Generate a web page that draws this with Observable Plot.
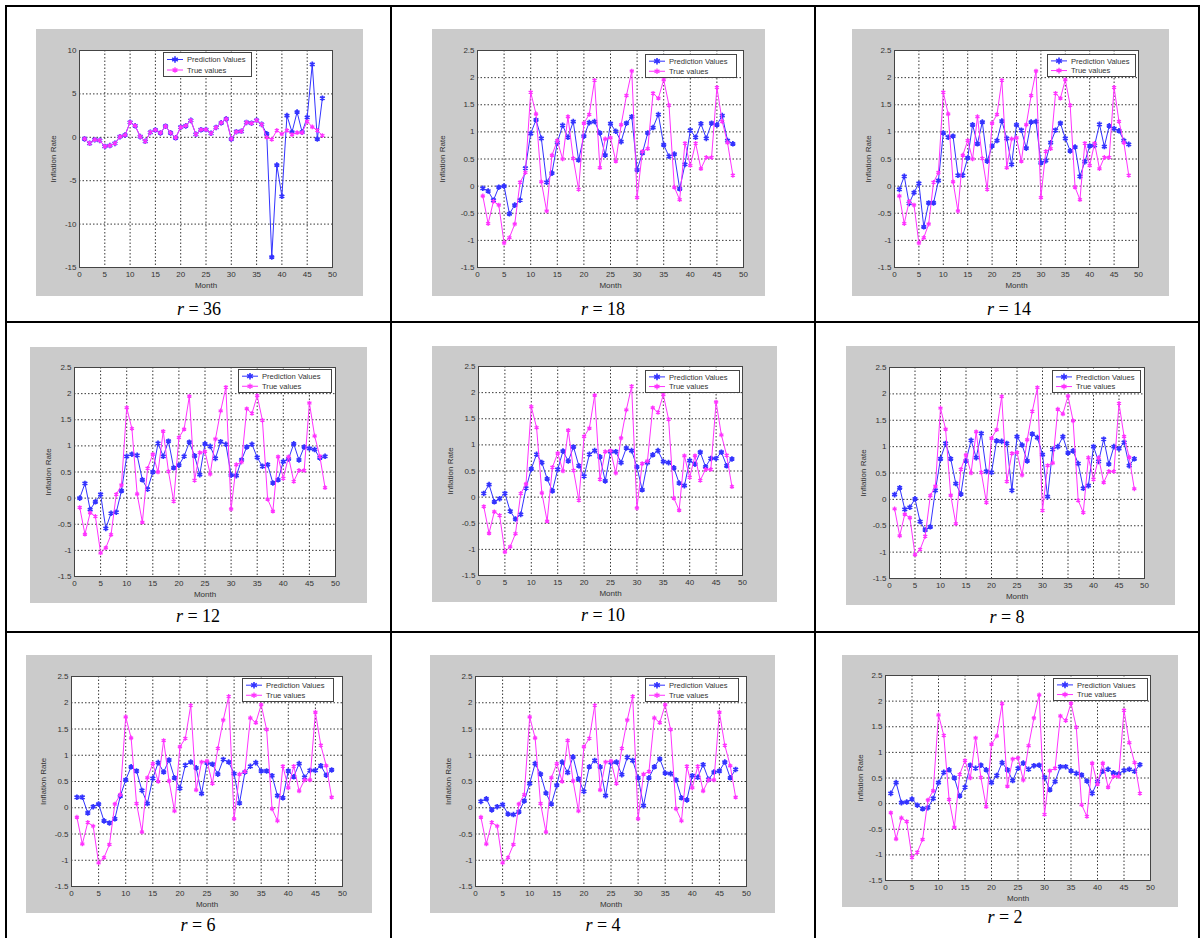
<!DOCTYPE html>
<html><head><meta charset="utf-8">
<script src="https://cdn.jsdelivr.net/npm/d3@7"></script>
<script src="https://cdn.jsdelivr.net/npm/@observablehq/plot@0.6"></script>
<style>
body{margin:0;background:#fff;}
#page{position:relative;width:1203px;height:938px;overflow:hidden;font-family:"Liberation Sans",Arial,sans-serif;}
.rule{position:absolute;background:#000;}
.panel{position:absolute;background:#cbcbcb;}
.panel svg{position:absolute;left:0;top:0;}
.legend{position:absolute;}
.caption{position:absolute;font-family:"Liberation Serif","Times New Roman",serif;font-size:18px;transform:translate(-50%,-50%);white-space:nowrap;color:#000;}
</style>
</head><body><div id="page"></div>
<script>
// ---------------- data ----------------
const months = [1,2,3,4,5,6,7,8,9,10,11,12,13,14,15,16,17,18,19,20,21,22,23,24,25,26,27,28,29,30,31,32,33,34,35,36,37,38,39,40,41,42,43,44,45,46,47,48];
const trueValues = [-0.18,-0.69,-0.28,-0.35,-1.05,-0.95,-0.70,0.07,0.25,1.73,1.33,0.08,-0.46,0.57,0.84,0.50,1.28,0.51,-0.06,1.16,1.32,1.95,0.34,0.87,0.89,0.46,1.13,1.67,2.12,-0.21,0.64,0.69,1.71,1.62,1.96,1.49,-0.02,-0.25,0.79,0.38,0.79,0.32,0.53,0.53,1.82,1.19,0.80,0.20];
const predR36 = [-0.18,-0.69,-0.28,-0.35,-1.05,-0.95,-0.70,0.07,0.25,1.73,1.33,0.08,-0.46,0.57,0.84,0.50,1.28,0.51,-0.06,1.16,1.32,1.95,0.34,0.87,0.89,0.46,1.13,1.67,2.12,-0.21,0.64,0.69,1.71,1.62,1.96,1.49,0.4,-13.8,-3.2,-6.8,2.5,0.6,2.9,0.6,2.3,8.4,-0.2,4.5];
const predR18 = [-0.04,-0.09,-0.26,-0.02,0.00,-0.51,-0.35,-0.26,0.33,0.97,1.22,0.88,0.07,0.24,0.80,1.12,0.90,1.19,0.48,0.92,1.17,1.19,0.98,0.57,1.15,1.01,0.82,1.16,1.28,0.30,0.61,0.98,1.08,1.32,0.76,0.55,0.59,-0.05,0.40,1.03,0.90,1.15,0.88,1.16,1.13,1.30,0.84,0.78];
const predR14 = [-0.06,0.18,-0.32,-0.12,0.05,-0.75,-0.31,-0.31,0.10,0.98,0.90,0.92,0.20,0.20,0.52,1.13,0.78,1.18,0.46,0.74,0.84,1.20,0.88,0.40,1.13,1.03,0.70,1.18,1.19,0.43,0.47,0.80,1.03,1.16,0.88,0.65,0.72,0.18,0.45,0.74,0.75,1.14,0.73,1.11,1.06,1.02,0.84,0.77];
const predR12 = [0.00,0.28,-0.22,-0.07,0.07,-0.58,-0.29,-0.27,0.14,0.80,0.84,0.82,0.35,0.17,0.50,1.05,0.80,1.09,0.58,0.63,0.80,1.07,0.81,0.45,1.04,0.99,0.76,1.08,1.03,0.44,0.43,0.73,0.98,1.03,0.78,0.61,0.64,0.29,0.35,0.70,0.75,1.04,0.73,0.98,0.95,0.93,0.77,0.80];
const predR10 = [0.07,0.24,-0.09,-0.03,0.07,-0.27,-0.42,-0.33,0.17,0.54,0.82,0.66,0.35,0.12,0.53,0.88,0.69,0.96,0.60,0.40,0.82,0.89,0.77,0.31,0.87,0.87,0.66,0.94,0.89,0.58,0.14,0.66,0.81,0.89,0.68,0.66,0.56,0.27,0.22,0.70,0.63,0.86,0.58,0.74,0.74,0.86,0.60,0.73];
const predR8 = [0.09,0.22,-0.19,-0.15,0.01,-0.42,-0.58,-0.52,0.17,0.77,1.06,0.77,0.30,0.10,0.73,1.12,0.79,1.25,0.53,0.51,1.11,1.10,1.06,0.17,1.19,1.03,0.73,1.24,1.17,0.85,0.05,0.95,1.00,1.19,0.88,0.92,0.68,0.21,0.26,1.00,0.72,1.14,0.67,1.00,0.96,1.08,0.64,0.77];
const predR6 = [0.20,0.20,-0.10,0.02,0.07,-0.25,-0.29,-0.21,0.22,0.53,0.78,0.70,0.33,0.08,0.56,0.86,0.68,0.91,0.57,0.37,0.81,0.87,0.76,0.27,0.85,0.83,0.64,0.92,0.87,0.65,0.09,0.68,0.79,0.86,0.70,0.70,0.61,0.23,0.19,0.70,0.59,0.84,0.58,0.71,0.71,0.80,0.62,0.72];
const predR4 = [0.12,0.17,-0.04,0.02,0.06,-0.12,-0.13,-0.08,0.13,0.46,0.84,0.64,0.28,0.07,0.43,0.87,0.67,0.97,0.55,0.31,0.78,0.90,0.78,0.23,0.86,0.87,0.63,0.96,0.90,0.57,0.04,0.57,0.78,0.93,0.66,0.65,0.53,0.19,0.15,0.61,0.58,0.82,0.54,0.68,0.70,0.87,0.57,0.73];
const predR2 = [0.20,0.41,0.02,0.03,0.09,-0.03,-0.10,-0.08,0.10,0.41,0.61,0.66,0.50,0.15,0.32,0.75,0.69,0.75,0.66,0.41,0.55,0.80,0.66,0.45,0.69,0.79,0.67,0.74,0.75,0.51,0.27,0.43,0.72,0.72,0.64,0.59,0.56,0.44,0.20,0.43,0.63,0.67,0.60,0.58,0.65,0.67,0.63,0.76];
const xTicks = [0,5,10,15,20,25,30,35,40,45,50];
const yTicksMain = [-1.5,-1,-0.5,0,0.5,1,1.5,2,2.5];
const yTicksR36 = [-15,-10,-5,0,5,10];
const seriesNames = ["Prediction Values","True values"];
const rLabels = ["36","18","14","12","10","8","6","4","2"];

// ---------------- layout ----------------
const BLUE = "#3333ff", MAGENTA = "#ff33ff";
const layout = [
  {g:[36,29,363,296],  p:[79,50,332,267],   lg:[163,52,252,77],    c:[199,309],  yl:29},
  {g:[432,29,765,296], p:[477,50,743,267],  lg:[645,54,737,78],    c:[603,309],  yl:38},
  {g:[852,29,1169,296],p:[894,50,1138,267], lg:[1047,54,1136,77],  c:[1009,309], yl:29},
  {g:[30,347,367,603], p:[74,367,335,576],  lg:[238,369,332,393],  c:[198,616],  yl:29},
  {g:[432,346,777,602],p:[478,366,742,575], lg:[645,370,740,393],  c:[603,615],  yl:31},
  {g:[846,346,1175,605],p:[889,367,1144,578],lg:[1052,370,1141,393],c:[1007,617], yl:29},
  {g:[26,655,372,913], p:[71,676,342,886],  lg:[242,678,334,702],  c:[198,925],  yl:31},
  {g:[430,655,775,913],p:[475,676,746,886], lg:[645,678,739,702],  c:[603,925],  yl:30},
  {g:[842,655,1178,907],p:[885,675,1150,880],lg:[1053,678,1148,701],c:[1005,917], yl:28}
];
const preds = [predR36,predR18,predR14,predR12,predR10,predR8,predR6,predR4,predR2];

const page = document.getElementById("page");

// table rules
[[5,5,1195,2],[5,5,2,940],[390,5,2,940],[814,5,2,940],[1198,5,2,940],[5,321,1195,2],[5,631,1195,2]].forEach(([x,y,w,h])=>{
  const d=document.createElement("div");d.className="rule";
  Object.assign(d.style,{left:x+"px",top:y+"px",width:w+"px",height:h+"px"});page.appendChild(d);
});

const fmt = d => String(d);

layout.forEach((L,i)=>{
  const [gx,gy,gx2,gy2]=L.g, [px,py,px2,py2]=L.p;
  const gw=gx2-gx, gh=gy2-gy;
  const yDomain = i===0 ? [-15,10] : [-1.5,2.5];
  const yTicks = i===0 ? yTicksR36 : yTicksMain;
  const data = months.map((m,k)=>({month:m, pred:preds[i][k], truth:trueValues[k]}));
  const grid = {stroke:"#222", strokeOpacity:0.9, strokeDasharray:"1.5,2", strokeWidth:1};
  const chart = Plot.plot({
    width: gw, height: gh,
    marginLeft: px-gx, marginTop: py-gy, marginRight: gx2-px2, marginBottom: gy2-py2,
    style:{background:"transparent", fontFamily:"'Liberation Sans', Arial, sans-serif", fontSize:"8px", color:"#333", overflow:"visible"},
    x:{domain:[0,50]},
    y:{domain:yDomain},
    marks:[
      Plot.frame({fill:"white", stroke:null}),
      Plot.gridX(xTicks, grid),
      Plot.gridY(yTicks, grid),
      Plot.line(data,{x:"month",y:"pred",stroke:BLUE,strokeWidth:1}),
      Plot.dot(data,{x:"month",y:"pred",symbol:"asterisk",stroke:BLUE,r:2.6,strokeWidth:1.7}),
      Plot.line(data,{x:"month",y:"truth",stroke:MAGENTA,strokeWidth:1}),
      Plot.dot(data,{x:"month",y:"truth",symbol:"asterisk",stroke:MAGENTA,r:2.2,strokeWidth:1.3}),
      Plot.axisX(xTicks,{tickSize:0,tickPadding:4,tickFormat:fmt,label:"Month",labelAnchor:"center",labelOffset:20,labelArrow:"none"}),
      Plot.axisY(yTicks,{tickSize:0,tickPadding:3,tickFormat:fmt,label:"Inflation Rate",labelAnchor:"center",labelOffset:L.yl,labelArrow:"none"}),
      Plot.frame({stroke:"#444", strokeWidth:1})
    ]
  });
  const panel=document.createElement("div");panel.className="panel";
  Object.assign(panel.style,{left:gx+"px",top:gy+"px",width:gw+"px",height:gh+"px"});
  panel.appendChild(chart);page.appendChild(panel);

  // legend
  const [lx,ly,lx2,ly2]=L.lg, lw=lx2-lx, lh=ly2-ly;
  const svg=d3.create("svg").attr("class","legend").attr("width",lw).attr("height",lh)
    .style("left",lx+"px").style("top",ly+"px").style("position","absolute");
  svg.append("rect").attr("x",0.5).attr("y",0.5).attr("width",lw-1).attr("height",lh-1).attr("fill","white").attr("stroke","#444");
  [[BLUE,seriesNames[0],lh*0.3],[MAGENTA,seriesNames[1],lh*0.72]].forEach(([col,txt,yy],j)=>{
    svg.append("line").attr("x1",4).attr("x2",20).attr("y1",yy).attr("y2",yy).attr("stroke",col);
    const s=d3.symbol(d3.symbolAsterisk, j===0?30:22)();
    svg.append("path").attr("d",s).attr("transform",`translate(12,${yy})`).attr("stroke",col).attr("stroke-width",j===0?1.6:1.3).attr("fill","none");
    svg.append("text").attr("x",24).attr("y",yy).attr("dy","0.35em").attr("font-size","7.6px")
      .attr("font-family","'Liberation Sans', Arial, sans-serif").attr("fill","#333").text(txt);
  });
  page.appendChild(svg.node());

  // caption
  const cap=document.createElement("div");cap.className="caption";
  cap.style.left=L.c[0]+"px";cap.style.top=L.c[1]+"px";
  cap.innerHTML=`<i>r</i> = ${rLabels[i]}`;
  page.appendChild(cap);
});
</script>
</body></html>
